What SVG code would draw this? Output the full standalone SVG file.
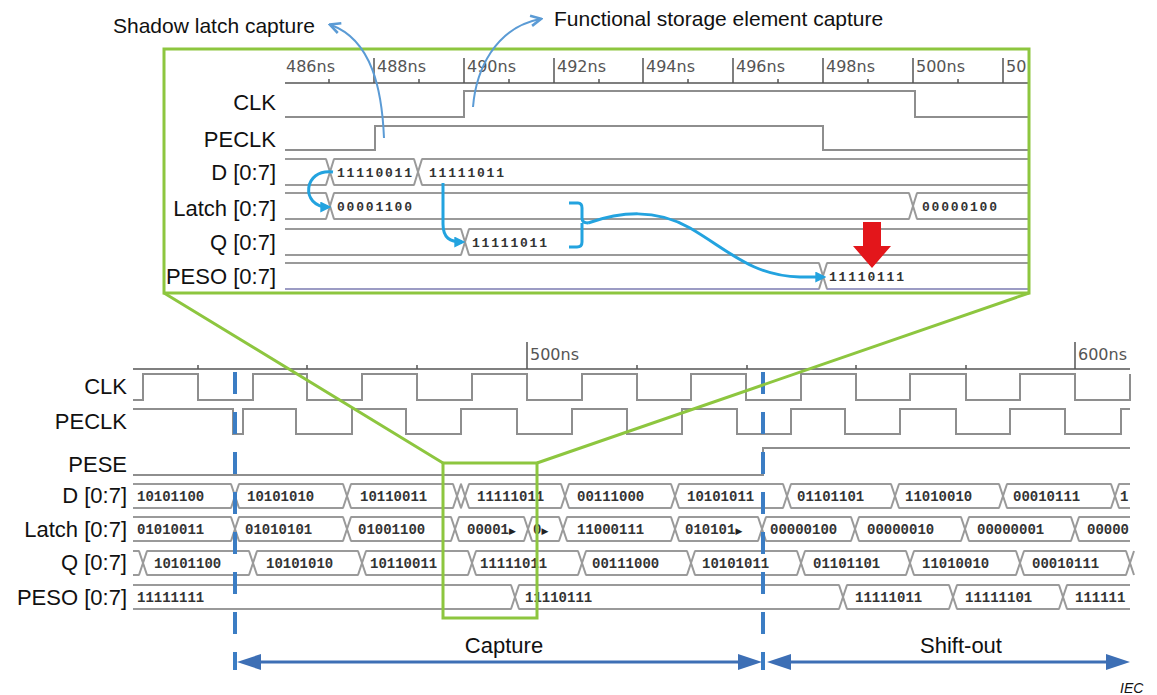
<svg xmlns="http://www.w3.org/2000/svg" width="1157" height="695" viewBox="0 0 1157 695">
<defs>
<style>
.lbl{font-family:"Liberation Sans",Arial,sans-serif;font-size:22px;fill:#111;text-anchor:end}
.ann{font-family:"Liberation Sans",Arial,sans-serif;font-size:21px;fill:#111}
.cap{font-family:"Liberation Sans",Arial,sans-serif;font-size:22px;fill:#111;text-anchor:middle}
.ns{font-family:"DejaVu Sans",sans-serif;font-size:16px;fill:#555}
.sig{fill:none;stroke:#8e8e8e;stroke-width:2}
.bus{fill:none;stroke:#9a9a9a;stroke-width:2}
.v{font-family:"Liberation Mono",monospace;font-weight:bold;font-size:14px;fill:#333}
.tri{font-family:"DejaVu Sans",sans-serif;font-size:9px;fill:#222}
.vt{font-family:"Liberation Mono",monospace;font-weight:bold;font-size:13px;letter-spacing:1.8px;fill:#333}
.axis{stroke:#555;stroke-width:1.5;fill:none}
.green{fill:none;stroke:#8dc63f;stroke-width:3}
.flow{fill:none;stroke:#23a3df;stroke-width:3}
.note{fill:none;stroke:#5b9bd5;stroke-width:2}
.dash{stroke:#3b7dc4;stroke-width:4;stroke-dasharray:22 18;fill:none}
.span{stroke:#3d6fb5;stroke-width:3}
.head{fill:#3d6fb5}
</style>
<g id="tb"><rect x="-3.5" y="-1.5" width="7" height="27" fill="#fff"/><path class="bus" d="M-4,0 L0,12 L-4,24 M4,0 L0,12 L4,24"/></g>
<g id="tt"><rect x="-3.5" y="-1.5" width="7" height="29" fill="#fff"/><path class="bus" d="M-4,0 L0,13 L-4,26 M4,0 L0,13 L4,26"/></g>
<marker id="fa" viewBox="0 0 10 10" refX="7" refY="5" markerWidth="11" markerHeight="11" markerUnits="userSpaceOnUse" orient="auto"><path d="M0,0 L10,5 L0,10 z" fill="#23a3df"/></marker>
<marker id="na" viewBox="0 0 10 10" refX="8" refY="5" markerWidth="13" markerHeight="13" markerUnits="userSpaceOnUse" orient="auto"><path d="M1,1 L9,5 L1,9" fill="none" stroke="#5b9bd5" stroke-width="2"/></marker>
</defs>
<rect width="1157" height="695" fill="#fff"/>

<!-- Zoomed view -->
<g id="zoom-view">
  <g id="zoom-axis">
    <path class="axis" d="M285,83 H1028 M374,58 V83 M464,58 V83 M554,58 V83 M643,58 V83 M733,58 V83 M823,58 V83 M913,58 V83 M1003,58 V83 M329,79 V83 M419,79 V83 M509,79 V83 M599,79 V83 M688,79 V83 M778,79 V83 M868,79 V83 M958,79 V83"/>
    <text class="ns" x="286" y="72">486ns</text>
    <text class="ns" x="377" y="72">488ns</text>
    <text class="ns" x="467" y="72">490ns</text>
    <text class="ns" x="557" y="72">492ns</text>
    <text class="ns" x="646" y="72">494ns</text>
    <text class="ns" x="736" y="72">496ns</text>
    <text class="ns" x="826" y="72">498ns</text>
    <text class="ns" x="916" y="72">500ns</text>
    <text class="ns" x="1006" y="72">50</text>
  </g>
  <g id="z-clk"><text class="lbl" x="276" y="110">CLK</text><path class="sig" d="M285,117 H464 V91 H915 V117 H1028"/></g>
  <g id="z-peclk"><text class="lbl" x="276" y="147">PECLK</text><path class="sig" d="M285,150 H375 V126 H823 V150 H1028"/></g>
  <g id="z-d"><text class="lbl" x="276" y="180">D [0:7]</text>
    <path class="bus" d="M285,159 H1028 M285,185 H1028"/>
    <use href="#tt" x="330" y="159"/><use href="#tt" x="418" y="159"/>
    <text class="vt" x="337" y="177">11110011</text><text class="vt" x="429" y="177">11111011</text></g>
  <g id="z-latch"><text class="lbl" x="276" y="216">Latch [0:7]</text>
    <path class="bus" d="M285,193 H1028 M285,219 H1028"/>
    <use href="#tt" x="330" y="193"/><use href="#tt" x="913" y="193"/>
    <text class="vt" x="337" y="211">00001100</text><text class="vt" x="922" y="211">00000100</text></g>
  <g id="z-q"><text class="lbl" x="276" y="250">Q [0:7]</text>
    <path class="bus" d="M285,229 H1028 M285,255 H1028"/>
    <use href="#tt" x="465" y="229"/>
    <text class="vt" x="472" y="247">11111011</text></g>
  <g id="z-peso"><text class="lbl" x="276" y="284">PESO [0:7]</text>
    <path class="bus" d="M285,263 H1028"/><path d="M285,289 H1028" fill="none" stroke="#9c9cc4" stroke-width="2"/>
    <use href="#tt" x="823" y="263"/>
    <text class="vt" x="829" y="281">11110111</text></g>
  <rect id="zoom-frame" class="green" x="164" y="49" width="865" height="244" stroke-width="4"/>
</g>

<!-- Overview -->
<g id="overview">
  <g id="o-axis">
    <path class="axis" d="M133,369 H1130 M527,342 V369 M1075,342 V369 M198,365 V369 M307,365 V369 M417,365 V369 M637,365 V369 M747,365 V369 M856,365 V369 M966,365 V369"/>
    <text class="ns" x="530" y="360">500ns</text>
    <text class="ns" x="1078" y="360">600ns</text>
  </g>
  <g id="o-clk"><text class="lbl" x="127" y="394">CLK</text>
    <path class="sig" d="M133,400 H143 V374 H198 V400 H253 V374 H307 V400 H362 V374 H417 V400 H472 V374 H527 V400 H582 V374 H637 V400 H691 V374 H746 V400 H801 V374 H856 V400 H910 V374 H966 V400 H1020 V374 H1075 V400 H1130 V374"/></g>
  <g id="o-peclk"><text class="lbl" x="127" y="429">PECLK</text>
    <path class="sig" d="M133,409 H233 V434 H243 V409 H296 V434 H352 V409 H406 V434 H461 V409 H517 V434 H572 V409 H627 V434 H682 V409 H737 V434 H791 V409 H845 V434 H900 V409 H956 V434 H1010 V409 H1065 V434 H1121 V409 H1130"/></g>
  <g id="o-pese"><text class="lbl" x="127" y="472">PESE</text>
    <path class="sig" d="M133,475 H763 V448 H1130"/></g>
  <g id="o-d"><text class="lbl" x="127" y="503">D [0:7]</text>
    <path class="bus" d="M133,484 H1130 M133,508 H1130"/>
    <use href="#tb" x="235" y="484"/><use href="#tb" x="347" y="484"/><use href="#tb" x="457" y="484"/><use href="#tb" x="465" y="484"/><use href="#tb" x="565" y="484"/><use href="#tb" x="675" y="484"/><use href="#tb" x="787" y="484"/><use href="#tb" x="895" y="484"/><use href="#tb" x="1003" y="484"/><use href="#tb" x="1115" y="484"/>
    <text class="v" x="137" y="501">10101100</text><text class="v" x="247" y="501">10101010</text><text class="v" x="360" y="501">10110011</text><text class="v" x="477" y="501">11111011</text><text class="v" x="577" y="501">00111000</text><text class="v" x="687" y="501">10101011</text><text class="v" x="797" y="501">01101101</text><text class="v" x="905" y="501">11010010</text><text class="v" x="1013" y="501">00010111</text><text class="v" x="1120" y="501">1</text></g>
  <g id="o-latch"><text class="lbl" x="127" y="537">Latch [0:7]</text>
    <path class="bus" d="M133,517 H1130 M133,541 H1130"/>
    <use href="#tb" x="235" y="517"/><use href="#tb" x="347" y="517"/><use href="#tb" x="455" y="517"/><use href="#tb" x="528" y="517"/><use href="#tb" x="563" y="517"/><use href="#tb" x="675" y="517"/><use href="#tb" x="762" y="517"/><use href="#tb" x="855" y="517"/><use href="#tb" x="965" y="517"/><use href="#tb" x="1075" y="517"/>
    <text class="v" x="137" y="534">01010011</text><text class="v" x="245" y="534">01010101</text><text class="v" x="358" y="534">01001100</text><text class="v" x="467" y="534">00001<tspan class="tri">▶</tspan></text><text class="v" x="533" y="534">0<tspan class="tri">▶</tspan></text><text class="v" x="577" y="534">11000111</text><text class="v" x="685" y="534">010101<tspan class="tri">▶</tspan></text><text class="v" x="770" y="534">00000100</text><text class="v" x="867" y="534">00000010</text><text class="v" x="977" y="534">00000001</text><text class="v" x="1087" y="534">00000</text></g>
  <g id="o-q"><text class="lbl" x="127" y="570">Q [0:7]</text>
    <path class="bus" d="M133,551 H1130 M133,575 H1130"/>
    <use href="#tb" x="143" y="551"/><use href="#tb" x="253" y="551"/><use href="#tb" x="362" y="551"/><use href="#tb" x="472" y="551"/><use href="#tb" x="582" y="551"/><use href="#tb" x="691" y="551"/><use href="#tb" x="801" y="551"/><use href="#tb" x="910" y="551"/><use href="#tb" x="1020" y="551"/><use href="#tb" x="1130" y="551"/>
    <text class="v" x="154" y="568">10101100</text><text class="v" x="266" y="568">10101010</text><text class="v" x="370" y="568">10110011</text><text class="v" x="480" y="568">11111011</text><text class="v" x="592" y="568">00111000</text><text class="v" x="702" y="568">10101011</text><text class="v" x="813" y="568">01101101</text><text class="v" x="922" y="568">11010010</text><text class="v" x="1032" y="568">00010111</text></g>
  <g id="o-peso"><text class="lbl" x="127" y="605">PESO [0:7]</text>
    <path class="bus" d="M133,585 H1130 M133,609 H1130"/>
    <use href="#tb" x="515" y="585"/><use href="#tb" x="843" y="585"/><use href="#tb" x="953" y="585"/><use href="#tb" x="1063" y="585"/>
    <text class="v" x="137" y="602">11111111</text><text class="v" x="525" y="602">11110111</text><text class="v" x="855" y="602">11111011</text><text class="v" x="965" y="602">11111101</text><text class="v" x="1075" y="602">111111</text></g>
</g>

<!-- Connectors -->
<g id="connectors">
  <path class="dash" d="M235,372 V670"/>
  <path class="dash" d="M763,372 V670"/>
  <path class="green" d="M164,293 L443,463 M1029,293 L537,463"/>
  <rect class="green" x="443" y="463" width="94" height="155" stroke-width="2.5"/>
  <path class="note" d="M384,138 C382,90 372,40 331,25" marker-end="url(#na)"/>
  <path class="note" d="M473,107 C476,70 495,28 540,19" marker-end="url(#na)"/>
  <path class="flow" d="M333,172 C303,168 300,207 328,207" marker-end="url(#fa)"/>
  <path class="flow" d="M443,183 V224 C443,238 450,242 462,242" marker-end="url(#fa)"/>
  <path class="flow" d="M569,203 H578 Q582,203 582,208 V218 Q582,223 588,223 M582,223 Q582,228 582,230 V242 Q582,247 577,247 H569"/>
  <path class="flow" d="M588,223 C620,212 655,208 690,228 C728,250 752,276 800,277 L823,277" marker-end="url(#fa)"/>
  <polygon points="863,222 881,222 881,246 891,246 872,268 853,246 863,246" fill="#e3161b"/>
  <line class="span" x1="255" y1="662" x2="745" y2="662"/>
  <polygon class="head" points="237,662 261,654 261,670"/>
  <polygon class="head" points="762,662 738,654 738,670"/>
  <line class="span" x1="785" y1="662" x2="1112" y2="662"/>
  <polygon class="head" points="767,662 791,654 791,670"/>
  <polygon class="head" points="1130,662 1106,654 1106,670"/>
</g>

<text class="ann" x="113" y="33">Shadow latch capture</text>
<text class="ann" x="554" y="26">Functional storage element capture</text>
<text class="cap" x="504" y="653">Capture</text>
<text class="cap" x="961" y="653">Shift-out</text>
<text x="1120" y="693" font-family="Liberation Sans, Arial, sans-serif" font-size="14" font-style="italic" fill="#111">IEC</text>
</svg>
